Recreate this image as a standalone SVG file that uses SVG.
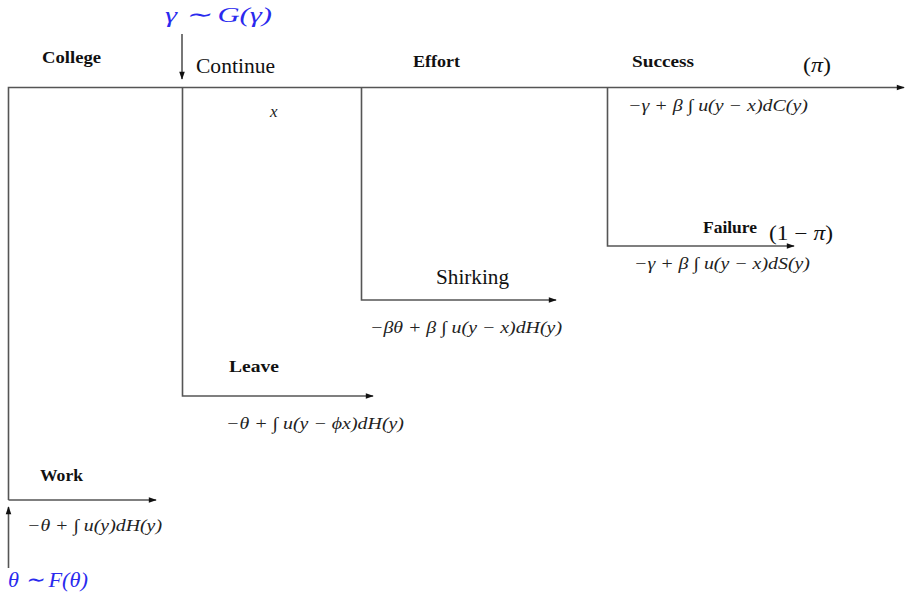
<svg xmlns="http://www.w3.org/2000/svg" width="906" height="597" viewBox="0 0 906 597">
<style>
.ln{stroke:#555;stroke-width:1.6;fill:none}
.lbl{font-family:"Liberation Serif",serif;font-size:17px;font-weight:bold;fill:#111}
.m{font-family:"Liberation Serif",serif;font-size:17px;font-style:italic;fill:#222}
.b{font-family:"Liberation Serif",serif;font-size:22px;font-style:italic;fill:#2a2aee}
.p{font-family:"Liberation Serif",serif;font-size:20px;fill:#111}
</style>
<defs>
<marker id="ah" viewBox="0 0 10 10" refX="9" refY="5" markerWidth="10" markerHeight="8" markerUnits="userSpaceOnUse" orient="auto">
<path d="M0,1.5 L10,5 L0,8.5 Z" fill="#111"/>
</marker>
</defs>
<g id="connectors">
<path class="ln" d="M8.5,500 V87.5 H904" marker-end="url(#ah)"/>
<path class="ln" d="M8.5,500 H156" marker-end="url(#ah)"/>
<path class="ln" d="M182.5,87.5 V396 H373" marker-end="url(#ah)"/>
<path class="ln" d="M361.5,87.5 V300 H556" marker-end="url(#ah)"/>
<path class="ln" d="M607.5,87.5 V246 H794" marker-end="url(#ah)"/>
<path class="ln" d="M182,34 V79" marker-end="url(#ah)"/>
<path class="ln" d="M8.5,568 V507" marker-end="url(#ah)"/>
</g>
<g id="college"><text class="lbl" x="42" y="63" textLength="59" lengthAdjust="spacingAndGlyphs">College</text></g>
<g id="gamma"><text class="b" x="165" y="22" textLength="107" lengthAdjust="spacingAndGlyphs">γ ∼ G(γ)</text></g>
<g id="continue"><text class="p" x="196" y="73" textLength="79" lengthAdjust="spacingAndGlyphs">Continue</text><text class="m" x="270" y="117">x</text></g>
<g id="effort"><text class="lbl" x="413" y="67" textLength="47" lengthAdjust="spacingAndGlyphs">Effort</text></g>
<g id="success"><text class="lbl" x="632" y="67" textLength="62" lengthAdjust="spacingAndGlyphs">Success</text><text class="p" x="803" y="72" textLength="28" lengthAdjust="spacingAndGlyphs">(<tspan font-style="italic">π</tspan>)</text><text class="m" x="628" y="111" textLength="180" lengthAdjust="spacingAndGlyphs">−γ + β ∫ u(y − x)dC(y)</text></g>
<g id="failure"><text class="lbl" x="703" y="233" textLength="54" lengthAdjust="spacingAndGlyphs">Failure</text><text class="p" x="769" y="240" textLength="64" lengthAdjust="spacingAndGlyphs">(1 − <tspan font-style="italic">π</tspan>)</text><text class="m" x="634" y="269" textLength="176" lengthAdjust="spacingAndGlyphs">−γ + β ∫ u(y − x)dS(y)</text></g>
<g id="shirking"><text class="p" x="436" y="284" textLength="73" lengthAdjust="spacingAndGlyphs">Shirking</text><text class="m" x="370" y="333" textLength="192" lengthAdjust="spacingAndGlyphs">−βθ + β ∫ u(y − x)dH(y)</text></g>
<g id="leave"><text class="lbl" x="229" y="372" textLength="50" lengthAdjust="spacingAndGlyphs">Leave</text><text class="m" x="226" y="429" textLength="178" lengthAdjust="spacingAndGlyphs">−θ + ∫ u(y − ϕx)dH(y)</text></g>
<g id="work"><text class="lbl" x="40" y="481" textLength="43" lengthAdjust="spacingAndGlyphs">Work</text><text class="m" x="27" y="531" textLength="135" lengthAdjust="spacingAndGlyphs">−θ + ∫ u(y)dH(y)</text></g>
<g id="theta"><text class="b" x="8" y="587" textLength="80" lengthAdjust="spacingAndGlyphs">θ ∼ F(θ)</text></g>
</svg>
